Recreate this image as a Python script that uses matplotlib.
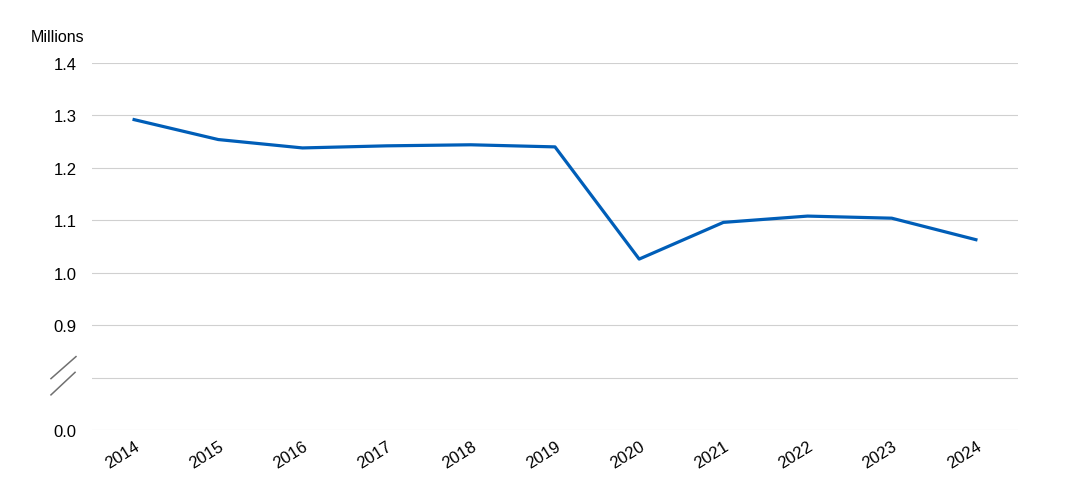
import matplotlib
matplotlib.use("Agg")
import matplotlib.pyplot as plt
import matplotlib.transforms as mtransforms

plt.rcParams['font.family'] = ['Liberation Sans', 'DejaVu Sans']

# data (millions)
years = [2014, 2015, 2016, 2017, 2018, 2019, 2020, 2021, 2022, 2023, 2024]
values = [1.292, 1.254, 1.238, 1.242, 1.244, 1.240, 1.026, 1.096, 1.108, 1.104, 1.063]

# broken axis: 0.0 sits where 0.7 would be
y_ticks = [0.7, 0.8, 0.9, 1.0, 1.1, 1.2, 1.3, 1.4]
y_labels = ['0.0', '', '0.9', '1.0', '1.1', '1.2', '1.3', '1.4']

fig = plt.figure(figsize=(10.81, 5.02), dpi=100)
ax = fig.add_axes([92 / 1081, 1 - 431 / 502, 926 / 1081, (431 - 64) / 502])

ax.plot(years, values, color='#005eb8', lw=2.3, solid_joinstyle='round', zorder=3)

ax.set_xlim(years[0] - 0.5, years[-1] + 0.5)
ax.set_ylim(0.7, 1.4)
ax.set_yticks(y_ticks)
ax.set_yticklabels(y_labels, fontsize=12)
ax.set_xticks(years)
ax.set_xticklabels([str(y) for y in years], fontsize=12, rotation=32,
                   ha='right', rotation_mode='anchor')
ax.tick_params(axis='y', length=0, pad=11)
ax.tick_params(axis='x', length=0, pad=6)
ax.grid(axis='y', color='#d0d0d0', lw=0.8)
ax.set_axisbelow(True)
for s in ax.spines.values():
    s.set_visible(False)

# break marks
tr = mtransforms.blended_transform_factory(ax.transAxes, ax.transData)
ax.plot([-0.0443, -0.0173], [0.798, 0.840], color='#707070', lw=1.1,
        transform=tr, clip_on=False)
ax.plot([-0.0443, -0.0183], [0.767, 0.810], color='#707070', lw=1.1,
        transform=tr, clip_on=False)

fig.text(31 / 1081, 1 - 38 / 502, 'Millions', fontsize=11.5, ha='left', va='center')

fig.savefig('out.png', dpi=100)
